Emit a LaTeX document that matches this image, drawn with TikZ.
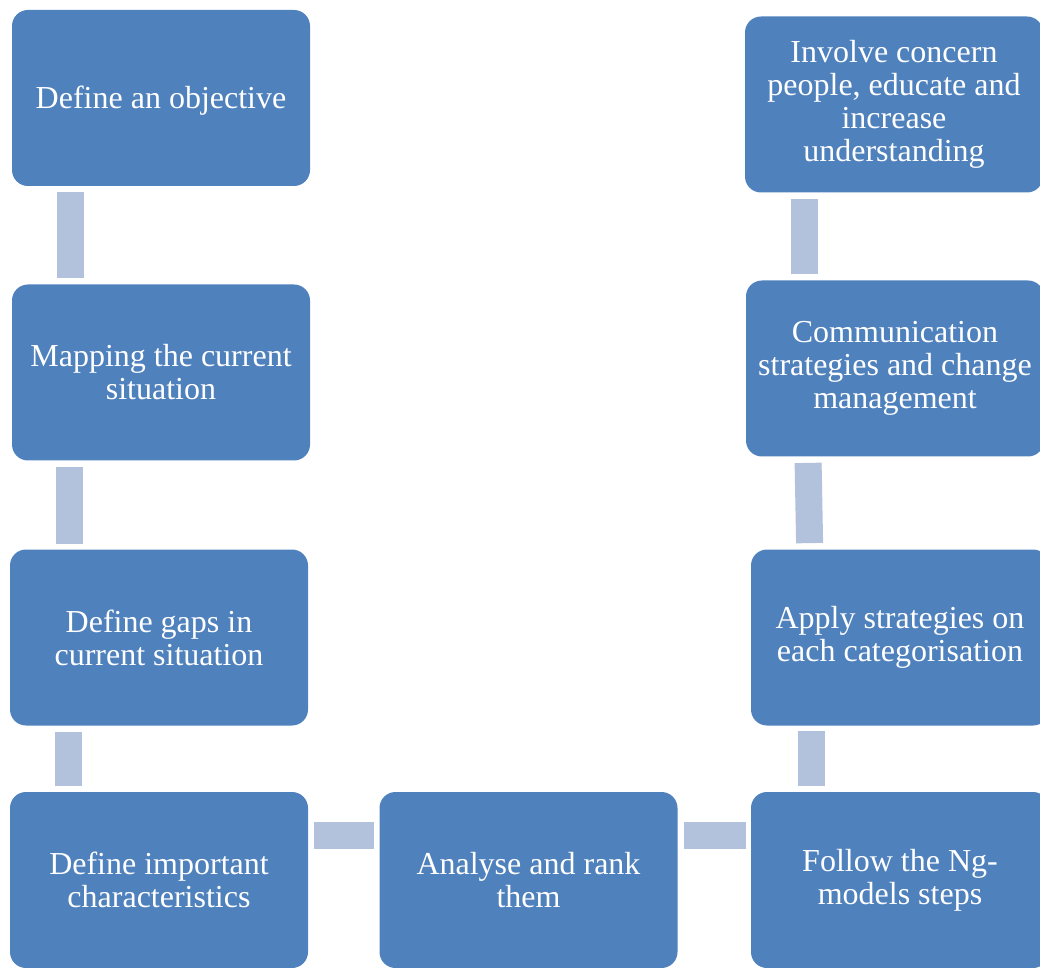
\documentclass[tikz,border=0pt]{standalone}
\usepackage{fontspec}
\setmainfont{Liberation Serif}
\usetikzlibrary{calc}
\definecolor{boxblue}{HTML}{4F81BD}
\definecolor{linkblue}{HTML}{B2C2DC}
\tikzset{
  stepbox/.style={fill=boxblue, rounded corners=8pt, minimum width=149pt,
    minimum height=88pt, align=center, text=white,
    font=\fontsize{16}{16.5}\selectfont,
    execute at begin node={\rule{0pt}{14pt}}},
  link/.style={draw=linkblue, line width=13.5pt, line cap=butt}
}
\begin{document}
\begin{tikzpicture}[x=0.5pt, y=-0.5pt]
\useasboundingbox (0,0) rectangle (1040,968);
\clip (0,0) rectangle (1040,968);
% left column
\node[stepbox] (obj) at (161,98) {Define an objective};
\node[stepbox] (map) at (161,372.5) {Mapping the current\\situation};
\node[stepbox] (gap) at (159,637.5) {Define gaps in\\current situation};
\node[stepbox] (imp) at (159,880) {Define important\\characteristics};
% bottom middle
\node[stepbox] (ana) at (528.5,880) {Analyse and rank\\them};
% right column
\node[stepbox] (fol) at (900,880) {Follow the Ng-\\models steps};
\node[stepbox] (app) at (900,637.5) {Apply strategies on\\each categorisation};
\node[stepbox] (com) at (895,368.5) {Communication\\strategies and change\\management};
\node[stepbox] (inv) at (894,104.5) {Involve concern\\people, educate and\\increase\\understanding};
% connectors
\draw[link] ($(obj.south west)+(58.5,6)$) -- ($(map.north west)+(58.5,-6)$);
\draw[link] ($(map.south west)+(58,6)$) -- ($(gap.north west)+(60,-5)$);
\draw[link] ($(gap.south west)+(58.5,6)$) -- ($(imp.north west)+(58.5,-6)$);
\draw[link] ($(imp.north east)+(6,44)$) -- ($(ana.north west)+(-5,44)$);
\draw[link] ($(ana.north east)+(6,44)$) -- ($(fol.north west)+(-5,44)$);
\draw[link] ($(fol.north west)+(60.5,-6)$) -- ($(app.south west)+(60.5,5)$);
\draw[link] ($(app.north west)+(59,-6)$) -- ($(com.south west)+(62.5,6)$);
\draw[link] ($(com.north west)+(58.5,-6)$) -- ($(inv.south west)+(59.5,6)$);
\end{tikzpicture}
\end{document}
